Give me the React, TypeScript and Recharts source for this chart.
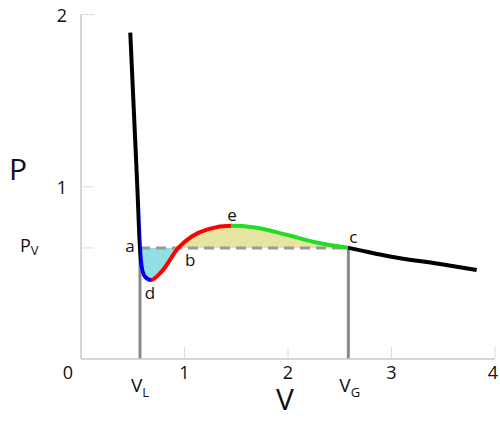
import React from 'react';
import { ComposedChart, Line, Area, Scatter, XAxis, YAxis } from 'recharts';

// isotherm (V, P)
const volume = [0.476, 0.522, 0.544, 0.57, 0.586, 0.618, 0.676, 0.78, 0.94, 1.07, 1.23, 1.449, 1.665, 1.987, 2.309, 2.583, 2.986, 3.469, 3.823];
const pressure = [1.895, 1.291, 1.0, 0.645, 0.537, 0.478, 0.459, 0.508, 0.645, 0.711, 0.754, 0.773, 0.765, 0.721, 0.672, 0.645, 0.595, 0.551, 0.517];

const PV = 0.645;
const VL = 0.57;
const VB = 0.94;
const VG = 2.583;

// where each colour of the curve starts
const segStarts = [0.476, VL, 0.676, 1.449, VG];
const segColors = ['#000000', '#0000ee', '#ff0000', '#22dd22', '#000000'];

const pointNames = ['a', 'b', 'c', 'd', 'e'];
const pointV = [VL, VB, VG, 0.676, 1.449];
const pointP = [PV, PV, PV, 0.459, 0.773];

const xTicks = [0, 1, 2, 3, 4, VL, VG];
const yTicks = [1, 2, PV];

const curve = volume.map((v, i) => ({ v, p: pressure[i] }));
const lowArea = curve.filter((d) => d.v >= VL && d.v <= VB).map((d) => ({ v: d.v, range: [d.p, PV] }));
const highArea = curve.filter((d) => d.v >= VB && d.v <= VG).map((d) => ({ v: d.v, range: [PV, d.p] }));
const tieLine = [{ v: VL, p: PV }, { v: VG, p: PV }];
const liquidDrop = [{ v: VL, p: 0 }, { v: VL, p: PV }];
const gasDrop = [{ v: VG, p: 0 }, { v: VG, p: PV }];
const letters = pointNames.map((name, i) => ({ name, v: pointV[i], p: pointP[i] }));

const FONT = '"Open Sans", sans-serif';

const vMin = volume[0];
const vMax = volume[volume.length - 1];
const frac = (v: number) => (v - vMin) / (vMax - vMin);

const labelOffsets: Record<string, [number, number]> = {
  a: [-10, 4],
  b: [12, 18],
  c: [5, -5],
  d: [-1, 19],
  e: [1, -5],
};

const XTick = ({ x, y, payload }: any) => {
  const v = payload.value;
  if (v === VL || v === VG) {
    return (
      <text x={x - 9} y={y + 33} fontSize={19} fill="#111" fontFamily={FONT}>
        V<tspan fontSize={13} dy={5}>{v === VL ? 'L' : 'G'}</tspan>
      </text>
    );
  }
  // first and last labels are nudged inwards like in the original
  const lx = v === 0 ? x - 13 : v === 4 ? x - 2 : x;
  return (
    <g>
      {v > 0 && <line x1={x} y1={y} x2={x} y2={y - 12} stroke="#dcdcdc" strokeWidth={1} />}
      <text x={lx} y={y + 20} textAnchor="middle" fontSize={18} fill="#111" fontFamily={FONT}>
        {v}
      </text>
    </g>
  );
};

const YTick = ({ x, y, payload }: any) => {
  const v = payload.value;
  return (
    <g>
      <line x1={x} y1={y} x2={x + 13} y2={y} stroke="#dcdcdc" strokeWidth={1} />
      {v === PV ? (
        <text x={x - 61} y={y + 4} fontSize={18} fill="#111" fontFamily={FONT}>
          P<tspan fontSize={13} dy={3}>V</tspan>
        </text>
      ) : (
        <text x={x - 19} y={y + 7} textAnchor="middle" fontSize={18} fill="#111" fontFamily={FONT}>
          {v}
        </text>
      )}
    </g>
  );
};

const LetterShape = ({ cx, cy, payload }: any) => {
  const [dx, dy] = labelOffsets[payload.name];
  return (
    <text x={cx + dx} y={cy + dy} textAnchor="middle" fontSize={17} fill="#111" fontFamily={FONT}>
      {payload.name}
    </text>
  );
};

export default function App() {
  return (
    <div style={{ fontFamily: FONT }}>
      <style>{'html, body { margin: 0; overflow: hidden; }'}</style>
      <ComposedChart width={500} height={424} margin={{ top: 14.5, right: 5, left: 80, bottom: 64 }}>
        <defs>
          <linearGradient id="isoGrad" x1="0" y1="0" x2="1" y2="0">
            {segColors.map((c, i) => {
              const start = frac(segStarts[i]);
              const end = i + 1 < segStarts.length ? frac(segStarts[i + 1]) : 1;
              return [
                <stop key={`s${i}`} offset={start} stopColor={c} />,
                <stop key={`e${i}`} offset={end} stopColor={c} />,
              ];
            })}
          </linearGradient>
        </defs>
        <XAxis
          type="number"
          dataKey="v"
          domain={[0, 4]}
          ticks={xTicks}
          interval={0}
          height={1}
          tickSize={0}
          tickMargin={0}
          tick={<XTick />}
          axisLine={{ stroke: '#c8c8c8', strokeWidth: 1.5 }}
          allowDataOverflow
          label={{
            content: (props: any) => {
              const vb = props.viewBox;
              return (
                <text x={vb.x + 204} y={vb.y + 51} textAnchor="middle" fontSize={30} fill="#111" fontFamily={FONT}>
                  V
                </text>
              );
            },
          }}
        />
        <YAxis
          type="number"
          dataKey="p"
          domain={[0, 2]}
          ticks={yTicks}
          interval={0}
          width={1}
          tickSize={0}
          tickMargin={0}
          tick={<YTick />}
          axisLine={{ stroke: '#c8c8c8', strokeWidth: 1.5 }}
          allowDataOverflow
          label={{
            content: (props: any) => {
              const vb = props.viewBox;
              return (
                <text x={vb.x + vb.width - 72} y={vb.y + 165} fontSize={30} fill="#111" fontFamily={FONT}>
                  P
                </text>
              );
            },
          }}
        />
        <Area data={lowArea} dataKey="range" type="monotone" fill="#92dfe2" fillOpacity={1} stroke="none" isAnimationActive={false} />
        <Area data={highArea} dataKey="range" type="monotone" fill="#e7e4a2" fillOpacity={1} stroke="none" isAnimationActive={false} />
        <Line data={liquidDrop} dataKey="p" type="linear" stroke="#8a8a8a" strokeWidth={3} dot={false} isAnimationActive={false} />
        <Line data={gasDrop} dataKey="p" type="linear" stroke="#8a8a8a" strokeWidth={3} dot={false} isAnimationActive={false} />
        <Line data={tieLine} dataKey="p" type="linear" stroke="#999999" strokeWidth={3} strokeDasharray="10 6" dot={false} isAnimationActive={false} />
        <Line data={curve} dataKey="p" type="monotone" stroke="url(#isoGrad)" strokeWidth={4} dot={false} isAnimationActive={false} />
        <Scatter data={letters} dataKey="p" shape={<LetterShape />} isAnimationActive={false} />
      </ComposedChart>
    </div>
  );
}
